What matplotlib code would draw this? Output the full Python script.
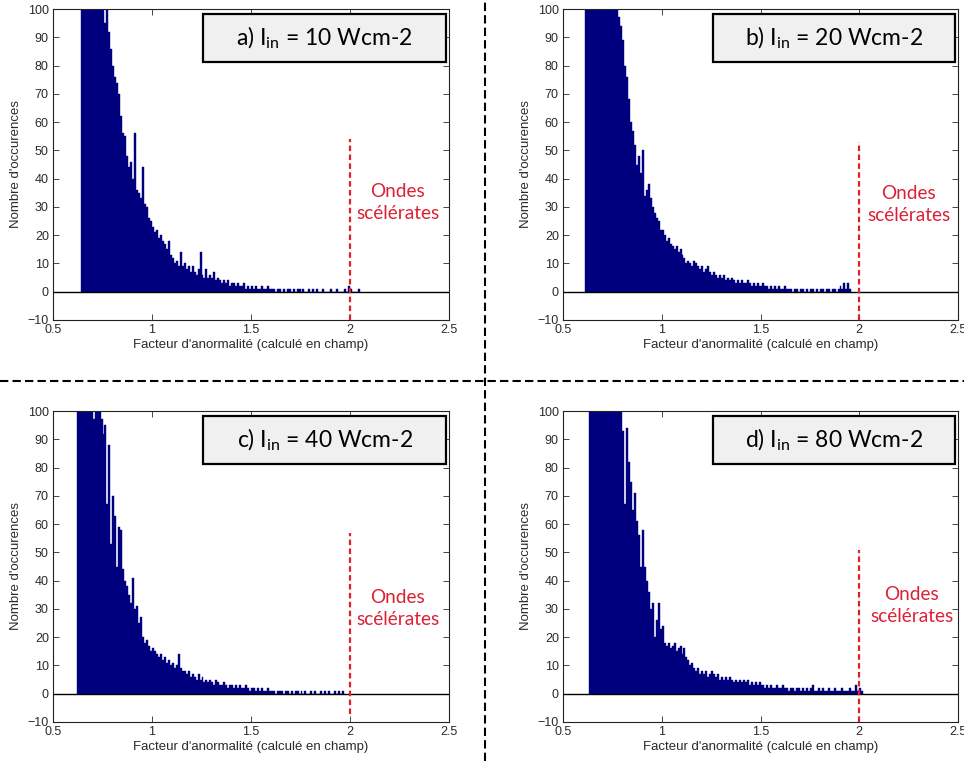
import matplotlib
matplotlib.use("Agg")
import matplotlib.pyplot as plt
from matplotlib.patches import Rectangle
from matplotlib.lines import Line2D
import numpy as np

plt.rcParams['font.family'] = ['Liberation Sans', 'DejaVu Sans']

BIN = 0.01

# ---- data: left edge of first bin + counts per 0.01 bin (values > 100 are clipped in the view)
a_start = 0.64
a_counts = [180, 175, 170, 160, 150, 145, 140, 130, 125, 118, 110, 104,
            95, 101, 92, 86, 80, 76, 74, 70, 62, 56, 55, 48, 44, 46, 40, 56, 36, 35, 33, 44,
            31, 30, 26, 25, 23, 21, 22, 19, 20, 18, 17, 15, 18, 13, 12, 10, 11, 9, 14, 9,
            10, 8, 9, 7, 9, 7, 6, 8, 14, 6, 5, 8, 5, 6, 5, 7, 4, 5, 4, 3,
            4, 3, 4, 2, 3, 3, 2, 3, 2, 2, 3, 1, 2, 1, 2, 1, 2, 1, 1, 2,
            1, 1, 2, 1, 1, 1, 0, 1, 1, 0, 1, 0, 1, 1, 0, 1, 0, 1, 1, 0,
            1, 0, 0, 1, 0, 1, 0, 1, 0, 0, 1, 0, 0, 0, 1, 0, 0, 1, 0, 0,
            0, 1, 0, 2, 1, 0, 0, 0, 1]

b_start = 0.61
b_counts = [190, 185, 180, 175, 170, 165, 160, 150, 145, 140, 135, 130, 125, 120, 112, 106, 102,
            97, 94, 89, 80, 76, 68, 60, 57, 52, 45, 48, 42, 50, 34, 36, 38, 33, 30, 28, 26,
            25, 22, 22, 20, 18, 19, 17, 16, 15, 16, 14, 15, 13, 12, 10, 11, 10, 9, 11, 10,
            9, 8, 9, 7, 8, 9, 7, 6, 7, 6, 5, 6, 5, 6, 4, 5, 4, 5, 4, 3,
            4, 3, 4, 3, 3, 4, 3, 2, 3, 2, 3, 2, 2, 3, 2, 2, 1, 2, 1, 2,
            1, 2, 1, 1, 2, 1, 1, 1, 0, 1, 1, 0, 1, 1, 0, 1, 0, 1, 1, 0,
            1, 0, 1, 1, 0, 1, 1, 0, 1, 1, 0, 1, 2, 1, 3, 1, 3, 1]

c_start = 0.62
c_counts = [190, 180, 175, 165, 160, 150, 145, 140, 97, 130, 120, 110,
            97, 92, 95, 67, 88, 53, 70, 63, 45, 59, 58, 44, 40, 38, 35, 32, 41, 30, 31, 25,
            27, 20, 18, 19, 17, 15, 16, 15, 14, 13, 14, 12, 13, 11, 12, 10, 11, 9, 10, 14,
            9, 8, 8, 7, 8, 6, 7, 6, 5, 7, 5, 6, 4, 5, 4, 5, 4, 3, 5, 4,
            3, 3, 4, 3, 2, 3, 3, 2, 3, 2, 3, 2, 2, 3, 2, 1, 2, 2, 1, 2,
            1, 2, 1, 1, 2, 1, 1, 1, 0, 1, 1, 1, 0, 1, 1, 0, 1, 0, 1, 1,
            0, 1, 0, 1, 0, 0, 1, 0, 1, 0, 0, 1, 0, 1, 0, 1, 0, 0, 1, 0,
            1, 0, 1]

d_start = 0.63
d_counts = [200, 195, 190, 185, 180, 170, 165, 160, 150, 145, 140, 132, 125, 118, 112, 106, 102,
            93, 67, 94, 82, 75, 65, 71, 61, 56, 45, 58, 45, 40, 36, 30, 32, 20, 26, 32, 23,
            24, 18, 17, 18, 16, 17, 18, 15, 16, 17, 14, 16, 13, 12, 10, 11, 9, 8, 9, 7,
            8, 7, 8, 6, 7, 8, 7, 6, 7, 5, 6, 5, 6, 5, 6, 5, 4, 5, 4, 5,
            4, 5, 4, 5, 3, 4, 3, 4, 3, 4, 3, 3, 2, 3, 2, 3, 2, 2, 3, 2,
            2, 3, 2, 2, 1, 2, 2, 1, 2, 2, 1, 2, 1, 2, 1, 2, 3, 1, 1, 2,
            1, 2, 1, 1, 2, 1, 1, 2, 1, 1, 1, 2, 1, 1, 1, 2, 1, 1, 3, 1,
            2, 1]

labels = ["a)", "b)", "c)", "d)"]
intensities = [10, 20, 40, 80]
red_line_tops = [54, 53, 57, 51]
red_line_bottoms = [-10, -10, -7, -10]
ondes_xy = [(2.24, 31.5), (2.25, 31), (2.24, 30), (2.265, 31.2)]

starts = [a_start, b_start, c_start, d_start]
counts_all = [a_counts, b_counts, c_counts, d_counts]

W, H = 964, 761
fig = plt.figure(figsize=(W / 100, H / 100), dpi=100)
fig.patch.set_facecolor('white')

# axes rectangles in pixels: (left, right, top, bottom)
rects = [(53, 449, 9, 320), (563, 958, 9, 320), (53, 449, 411, 722), (563, 958, 411, 722)]

navy = '#00007F'
for i, (l, r, t, b) in enumerate(rects):
    ax = fig.add_axes([l / W, 1 - b / H, (r - l) / W, (b - t) / H])
    cnt = np.array(counts_all[i], dtype=float)
    edges = starts[i] + BIN * np.arange(len(cnt))
    ax.bar(edges, cnt, width=BIN, align='edge', color=navy, edgecolor=navy, linewidth=0.3)
    ax.axhline(0, color='black', lw=1.0, zorder=3)
    ax.set_xlim(0.5, 2.5)
    ax.set_ylim(-10, 100)
    ax.set_xticks([0.5, 1, 1.5, 2, 2.5])
    ax.set_xticklabels(['0.5', '1', '1.5', '2', '2.5'])
    ax.set_yticks(np.arange(-10, 101, 10))
    ax.tick_params(direction='in', top=True, right=True, length=4, width=0.6,
                   labelsize=9, colors='#2a2a2a', pad=3)
    for sp in ax.spines.values():
        sp.set_linewidth(0.8)
        sp.set_color('#222222')
    ax.set_xlabel("Facteur d'anormalité (calculé en champ)", fontsize=9.5, color='#2a2a2a', labelpad=2)
    ax.set_ylabel("Nombre d'occurences", fontsize=9.5, color='#2a2a2a', labelpad=4)

    # red dashed threshold line at 2
    ax.plot([2, 2], [red_line_bottoms[i], red_line_tops[i]], color='#E0202A', lw=1.6,
            linestyle=(0, (2.5, 1.5)), zorder=4, clip_on=False)
    ox, oy = ondes_xy[i]
    ax.text(ox, oy, "Ondes\nscélérates", color='#DC2035', fontsize=13.7, family=['Lato', 'DejaVu Sans'],
            ha='center', va='center', linespacing=1.35)

    # label box
    bx0, bx1, by0, by1 = 0.380, 0.992, 0.828, 0.985
    ax.add_patch(Rectangle((bx0, by0), bx1 - bx0, by1 - by0, transform=ax.transAxes,
                           facecolor='#F0F0F0', edgecolor='black', lw=1.6, zorder=6, clip_on=False))
    ax.text((bx0 + bx1) / 2, (by0 + by1) / 2,
            f"{labels[i]} " + r"$\mathregular{I_{in}}$" + f" = {intensities[i]} Wcm-2",
            transform=ax.transAxes, ha='center', va='center', fontsize=16.5,
            family=['Lato', 'DejaVu Sans'], color='black', zorder=7)

# dashed dividers
fig.add_artist(Line2D([0, 1], [1 - 381 / H, 1 - 381 / H], transform=fig.transFigure,
                      color='black', lw=1.5, linestyle=(0, (4, 2))))
fig.add_artist(Line2D([485 / W, 485 / W], [0, 1], transform=fig.transFigure,
                      color='black', lw=1.5, linestyle=(0, (4, 2))))

fig.savefig('out.png', dpi=100)
